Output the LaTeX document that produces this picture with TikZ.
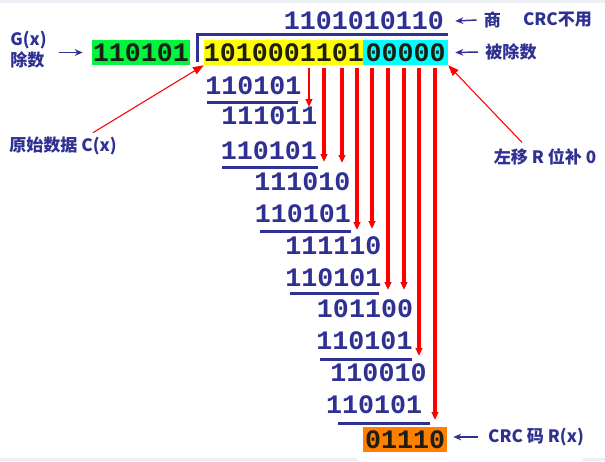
\documentclass[tikz,border=0pt]{standalone}
\usepackage{fontspec}
\setmonofont{Liberation Mono}
\newfontfamily\cjk{Noto Sans CJK SC}
\usetikzlibrary{arrows.meta, calc}
\definecolor{navy}{RGB}{46,49,146}
\definecolor{ink}{RGB}{30,30,20}
\definecolor{gbox}{RGB}{0,245,60}
\definecolor{ybox}{RGB}{255,255,0}
\definecolor{cbox}{RGB}{0,255,255}
\definecolor{obox}{RGB}{255,128,0}
\definecolor{strip}{RGB}{236,240,245}
\tikzset{
  bits/.style={font=\ttfamily\bfseries\fontsize{20pt}{24pt}\selectfont, text=navy, inner sep=0pt},
  boxbits/.style={bits, text=ink, minimum height=18.75pt},
  lbl/.style={font=\cjk\bfseries\fontsize{12.8pt}{15.75pt}\selectfont, text=navy, inner sep=0pt},
  rule/.style={navy, line width=2.25pt},
  bring/.style={red, -{Triangle[length=6pt,width=5pt]}},
  pointer/.style={red, line width=0.8pt, -{Triangle[length=8pt,width=6pt]}},
  marker/.style={navy, line width=1.1pt, -{Stealth[length=6pt,width=5pt]}},
}
\begin{document}
\begin{tikzpicture}[x=0.75pt, y=-0.75pt]
  % canvas, 605 x 461 px
  \useasboundingbox (0,0) rectangle (605,461);
  \fill[white] (0,0) rectangle (605,461);
  \fill[strip] (0,0) rectangle (605,3);
  \fill[strip] (0,458) rectangle (357,461);
  \fill[strip] (582,458) rectangle (605,461);

  % divisor, dividend and padding
  \node[boxbits, fill=gbox, minimum width=73.5pt] (div) at (141,52.5) {110101};
  \node[boxbits, fill=ybox, minimum width=118.5pt] (data) at (284,52.5) {1010001101};
  \node[boxbits, fill=cbox, minimum width=63.75pt] (pad) at (405.5,52.5) {00000};

  % quotient and division bracket
  \node[bits] (quot) at (364,21) {1101010110};
  \draw[rule] (197,62) -- (197,34) -- (448,34);

  % long division steps
  \node[bits] (p1) at (253.5,86) {110101};
  \node[bits] (d1) at (269.5,116) {111011};
  \node[bits] (p2) at (269,151) {110101};
  \node[bits] (d2) at (302.5,182) {111010};
  \node[bits] (p3) at (303,214) {110101};
  \node[bits] (d3) at (333.5,246) {111110};
  \node[bits] (p4) at (333.5,278) {110101};
  \node[bits] (d4) at (365,309) {101100};
  \node[bits] (p5) at (364.5,341) {110101};
  \node[bits] (d5) at (378.5,373) {110010};
  \node[bits] (p6) at (374,405) {110101};
  \node[boxbits, fill=obox, minimum width=63pt] (rem) at (405,439.5) {01110};

  % subtraction rules
  \draw[rule] (207,102) -- (298,102);
  \draw[rule] (222,167) -- (318,167);
  \draw[rule] (260,231) -- (351,231);
  \draw[rule] (290,293) -- (379,293);
  \draw[rule] (320,359) -- (412,359);
  \draw[rule] (338,423) -- (430,423);

  % bits brought down
  \foreach \x/\y/\w [count=\i] in {309/107/1.5, 324/162/2.5, 342/163/2.5, 357/230/2.5, 372/229/2.5,
                                   388/290/2.5, 404/290/2.5, 419/356/2.5, 435/420/2.5} {
    \coordinate (t\i) at (\x,\y);
    \draw[bring, line width=\w pt, shorten <=2pt] (data.south -| t\i) -- (t\i);
  }

  % labels
  \node[lbl, align=left, anchor=west] (gx) at (10,49.5) {G(x)\\除数};
  \node[lbl] (shang) at (492.5,20) {商};
  \node[lbl] (nouse) at (557.5,20) {CRC不用};
  \node[lbl] (bcs) at (511,52) {被除数};
  \node[lbl] (ysj) at (63,146) {原始数据 C(x)};
  \node[lbl] (zy) at (545,157) {左移 R 位补 0};
  \node[lbl] (crc) at (536,437) {CRC 码 R(x)};

  % label arrows
  \draw[marker] ($(gx.east |- div.west)+(12,0)$) -- ($(div.west)+(-9,0)$);
  \draw[marker] ($(shang.west)+(-7,0)$) -- ($(quot.east)+(11,0)$);
  \draw[marker] ($(bcs.west)+(-7,0)$) -- ($(pad.east)+(7,0)$);
  \draw[marker] ($(crc.west)+(-10,0)$) -- ($(rem.east |- crc.west)+(6,0)$);
  \draw[pointer] ($(ysj.north)+(30,-4)$) -- (data.south west);
  \draw[pointer] ($(zy.north)+(-23,-6)$) -- (pad.south east);
\end{tikzpicture}
\end{document}
